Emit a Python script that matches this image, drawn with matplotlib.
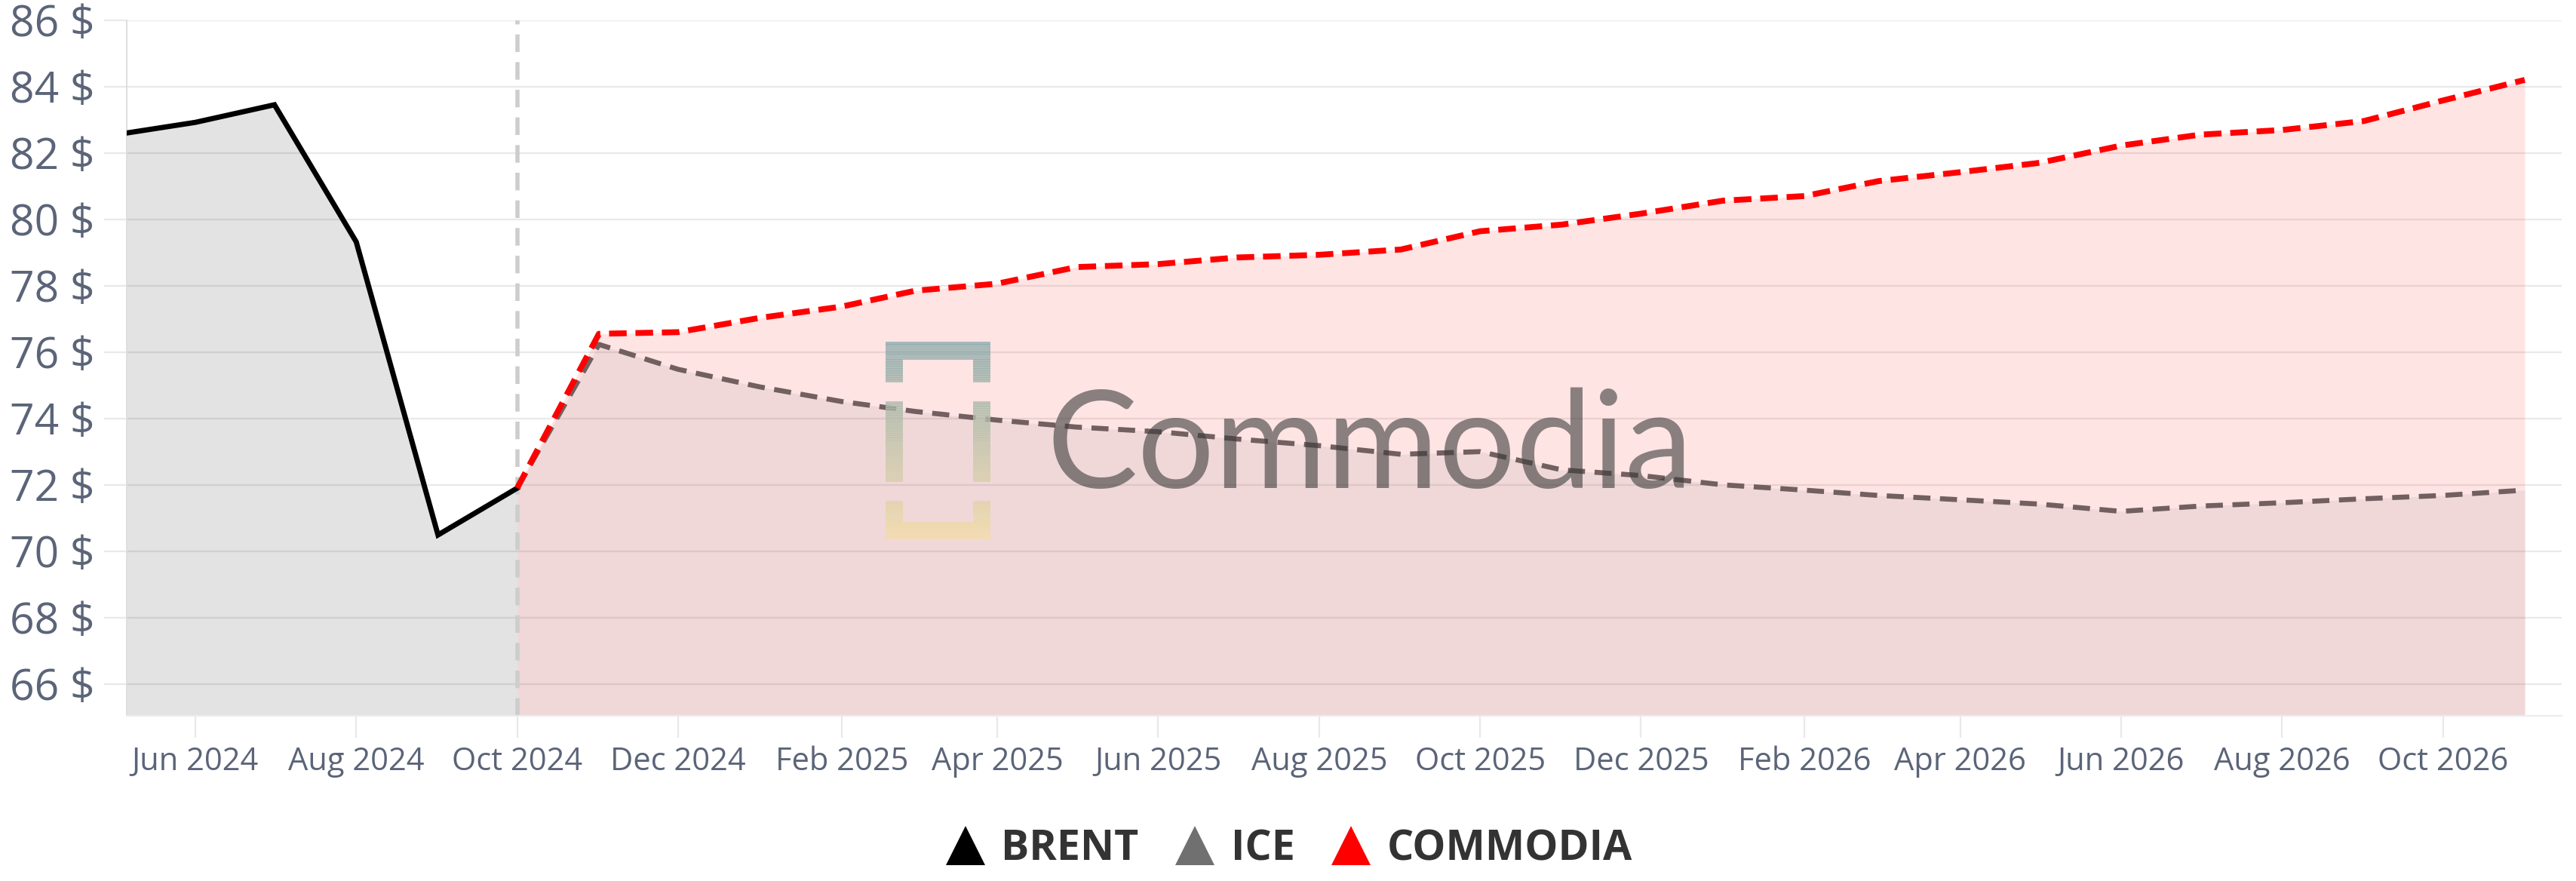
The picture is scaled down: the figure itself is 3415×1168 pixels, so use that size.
import numpy as np
import pandas as pd
import matplotlib
matplotlib.use("Agg")
import matplotlib.pyplot as plt
import matplotlib.dates as mdates
from matplotlib.lines import Line2D
from matplotlib.patches import Rectangle
from matplotlib.colors import to_rgb

# ──────────────────────────────────────────────
# DATA
# ──────────────────────────────────────────────
BRENT_DATES = pd.to_datetime(["2024-05-06", "2024-06-01", "2024-07-01",
                              "2024-08-01", "2024-09-01", "2024-10-01"])
BRENT = [82.6, 82.92, 83.45, 79.32, 70.49, 71.9]

FC_DATES = pd.date_range("2024-10-01", "2026-11-01", freq="MS")
COMMODIA = [71.9, 76.55, 76.6, 77.03, 77.37, 77.85, 78.06, 78.56, 78.65,
            78.85, 78.93, 79.09, 79.64, 79.84, 80.17, 80.56, 80.70, 81.15,
            81.42, 81.70, 82.22, 82.55, 82.69, 82.96, 83.58, 84.2]
ICE = [71.9, 76.23, 75.48, 74.95, 74.51, 74.21, 73.95, 73.74, 73.6,
       73.38, 73.18, 72.92, 73.0, 72.45, 72.28, 72.0, 71.84, 71.68,
       71.55, 71.42, 71.2, 71.36, 71.46, 71.58, 71.68, 71.84]

SERIES = ["BRENT", "ICE", "COMMODIA"]
Y_TICKS = list(range(66, 87, 2))
Y_MIN, Y_MAX = 65.05, 86.0
X_MIN, X_MAX = pd.Timestamp("2024-05-06"), pd.Timestamp("2026-11-15")

# colours
C_BRENT = "#000000"
C_ICE = "#707070"
C_ICE_LINE = "#725f60"
C_COMM = "#ff0000"
C_GRID = "#e9e9e9"
C_TICK = "#5b6478"
C_LEG = "#333333"

W, H, DPI = 3416, 1168, 100
fig = plt.figure(figsize=(W / DPI, H / DPI), dpi=DPI)
ax = fig.add_axes([168 / W, 1 - 948.6 / H, 3228 / W, (948.6 - 26.7) / H])

# fills
ax.fill_between(BRENT_DATES, BRENT, Y_MIN, color=C_BRENT, alpha=0.11, lw=0, zorder=1)
ax.fill_between(FC_DATES, COMMODIA, Y_MIN, color=C_COMM, alpha=0.105, lw=0, zorder=1)
ax.fill_between(FC_DATES, ICE, Y_MIN, color=C_ICE, alpha=0.10, lw=0, zorder=1)

# forecast start marker
ax.axvline(FC_DATES[0], color="#cdcdcd", lw=4, dashes=(4.2, 2.4), zorder=2)

# lines
ax.plot(BRENT_DATES, BRENT, color=C_BRENT, lw=5, zorder=4, solid_joinstyle="miter")
ax.plot(FC_DATES, ICE, color=C_ICE_LINE, lw=4.8, dashes=(3.4, 1.9), zorder=3)
ax.plot(FC_DATES, COMMODIA, color=C_COMM, lw=5.6, dashes=(3.0, 1.5), zorder=4)

ax.set_xlim(X_MIN, X_MAX)
ax.set_ylim(Y_MIN, Y_MAX)
ax.set_yticks(Y_TICKS)
ax.set_yticklabels([f"{v} $" for v in Y_TICKS])
ax.xaxis.set_major_locator(mdates.MonthLocator(bymonth=[2, 4, 6, 8, 10, 12]))
ax.xaxis.set_major_formatter(mdates.DateFormatter("%b %Y"))

ax.set_axisbelow(True)
ax.grid(axis="y", color=C_GRID, lw=1.6)
for side in ["top", "right"]:
    ax.spines[side].set_visible(False)
ax.spines["left"].set_color("#dedede")
ax.spines["left"].set_linewidth(1.4)
ax.spines["bottom"].set_color("#ececec")
ax.spines["bottom"].set_linewidth(1.6)
ax.tick_params(axis="y", length=21.6, width=1.6, color=C_GRID, pad=9,
               labelsize=41, labelcolor=C_TICK)
ax.tick_params(axis="x", length=21, width=1.6, color=C_GRID, pad=8,
               labelsize=30, labelcolor=C_TICK)
for lab in ax.get_xticklabels() + ax.get_yticklabels():
    lab.set_family("Open Sans")

# watermark overlay (pixel coordinates of the figure)
wm = fig.add_axes([0, 0, 1, 1], zorder=5)
wm.set_xlim(0, W)
wm.set_ylim(H, 0)
wm.axis("off")

top_c = np.array(to_rgb("#8aa9ab"))
bot_c = np.array(to_rgb("#f4dda8"))
LOGO_TOP, LOGO_BOT = 453, 714
pieces = [
    (1174, 453, 139, 23),   # top bar
    (1174, 476, 23, 30), (1290, 476, 23, 30),     # top legs
    (1174, 532, 23, 106), (1290, 532, 23, 106),   # middle bars
    (1174, 664, 23, 28), (1290, 664, 23, 28),     # bottom legs
    (1174, 692, 139, 22),   # bottom bar
]
for x0, y0, w, h in pieces:
    n = max(2, int(h / 3))
    edges = np.linspace(y0, y0 + h, n + 1)
    for a, b in zip(edges[:-1], edges[1:]):
        t = ((a + b) / 2 - LOGO_TOP) / (LOGO_BOT - LOGO_TOP)
        c = top_c * (1 - t) + bot_c * t
        wm.add_patch(Rectangle((x0, a), w, b - a + 0.5, color=c, alpha=0.75, lw=0))

wm.text(1387, 647, "Commodia", fontsize=130, family="Lato", color="#3c3c3c",
        alpha=0.6, ha="left", va="baseline")

# legend
handles = [Line2D([], [], ls="none", marker="^", markersize=37, color=c, mew=0)
           for c in (C_BRENT, C_ICE, C_COMM)]
leg = fig.legend(handles, SERIES, loc="center", bbox_to_anchor=(0.5, 1 - 1126 / H),
                 ncol=3, frameon=False, handlelength=1.0, handletextpad=0.35,
                 columnspacing=0.85, prop={"family": "Open Sans", "weight": "bold", "size": 40})
for t in leg.get_texts():
    t.set_color(C_LEG)

fig.savefig("out.png", dpi=DPI)
